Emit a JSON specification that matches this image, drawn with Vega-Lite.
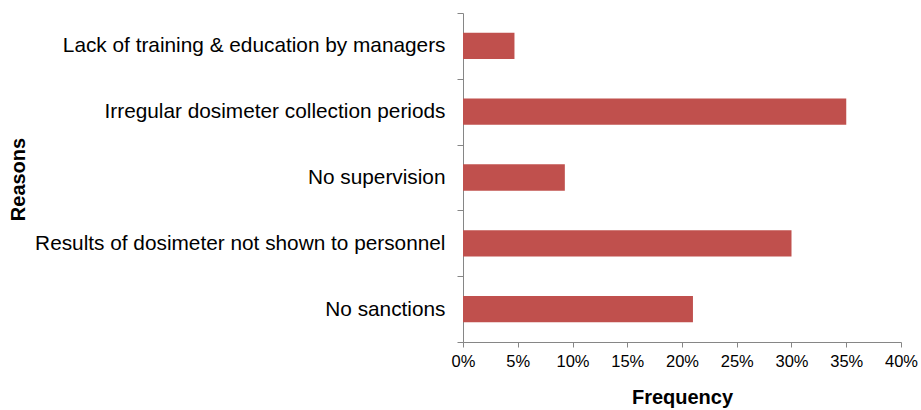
{
  "$schema": "https://vega.github.io/schema/vega-lite/v6.json",
  "width": 438,
  "height": 329,
  "autosize": "none",
  "padding": {"left": 463, "top": 13, "right": 20, "bottom": 68},
  "background": "white",
  "config": {
    "view": {"stroke": null},
    "font": "Liberation Sans"
  },
  "data": {
    "values": [
      {"reason": "Lack of training & education by managers", "freq": 0.047},
      {"reason": "Irregular dosimeter collection periods", "freq": 0.35},
      {"reason": "No supervision", "freq": 0.093},
      {"reason": "Results of dosimeter not shown to personnel", "freq": 0.30},
      {"reason": "No sanctions", "freq": 0.21}
    ]
  },
  "mark": {"type": "bar", "color": "#C0504D", "height": {"band": 0.4}},
  "encoding": {
    "y": {
      "field": "reason",
      "type": "nominal",
      "sort": null,
      "scale": {"paddingInner": 0, "paddingOuter": 0},
      "axis": {
        "title": "Reasons",
        "titleFontSize": 20,
        "titleFontWeight": "bold",
        "titleColor": "black",
        "titleX": -445,
        "titleY": 166,
        "titleAngle": -90,
        "titleAlign": "center",
        "titleBaseline": "middle",
        "labelFontSize": 20.8,
        "labelColor": "black",
        "labelPadding": 12,
        "labelLimit": 500,
        "tickSize": 6,
        "tickColor": "#868686",
        "domainColor": "#868686",
        "tickBand": "extent",
        "grid": false
      }
    },
    "x": {
      "field": "freq",
      "type": "quantitative",
      "scale": {"domain": [0, 0.4]},
      "axis": {
        "title": "Frequency",
        "format": ".0%",
        "values": [0, 0.05, 0.1, 0.15, 0.2, 0.25, 0.3, 0.35, 0.4],
        "titleFontSize": 20,
        "titleFontWeight": "bold",
        "titleColor": "black",
        "titlePadding": 18,
        "labelFontSize": 16.5,
        "labelColor": "black",
        "labelPadding": 6,
        "labelFlush": false,
        "tickSize": 5,
        "tickColor": "#868686",
        "domainColor": "#868686",
        "grid": false
      }
    }
  }
}
